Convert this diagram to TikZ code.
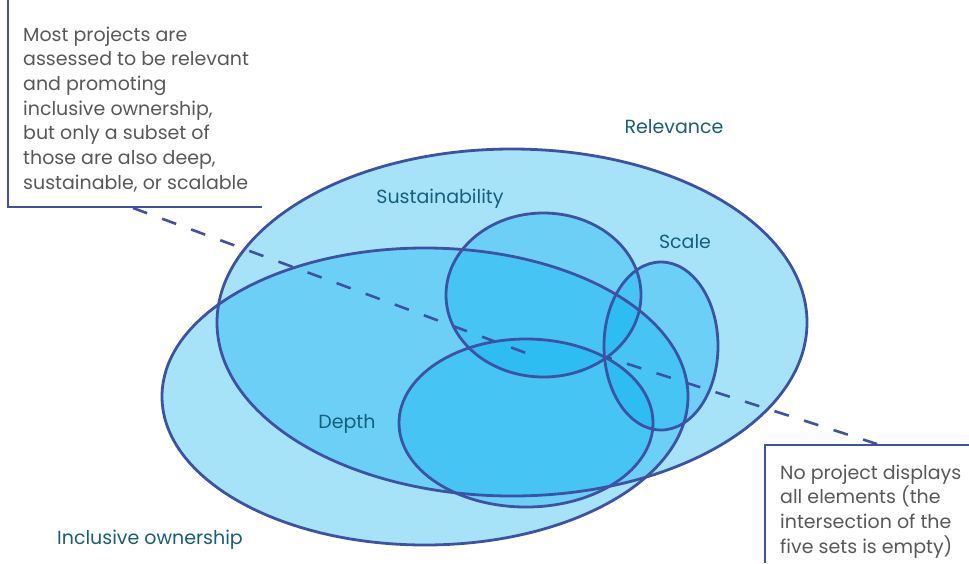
\documentclass[tikz,border=0pt]{standalone}
\usepackage{fontspec}
\setmainfont{Poppins}
\definecolor{setblue}{RGB}{0,174,239}
\definecolor{rimblue}{RGB}{62,82,164}
\definecolor{labteal}{RGB}{22,95,122}
\definecolor{notegray}{RGB}{88,88,88}
\tikzset{
  setfill/.style={fill=setblue,fill opacity=0.35},
  setrim/.style={draw=rimblue,line width=2.8pt},
  setlabel/.style={text=labteal,font=\fontsize{19}{24}\selectfont,inner sep=0pt,anchor=base},
  note/.style={text=notegray,font=\fontsize{19}{24.7}\selectfont,align=left,inner sep=0pt,anchor=north west},
  frame/.style={draw=rimblue,line width=2.8pt},
  pointer/.style={draw=rimblue,line width=2.6pt,dash pattern=on 15pt off 16pt}
}
\begin{document}
\begin{tikzpicture}[x=1pt,y=-1pt]
\useasboundingbox (0,0) rectangle (969,563);
\foreach \name/\cx/\cy/\rx/\ry in {relevance/512/322.5/295/173.5,ownership/425/396.5/263/148.5,
    sustainability/543.5/295/97.5/82,scale/661/346/57/84,depth/526/423/127/84}{
  \coordinate (\name) at (\cx,\cy);
  \fill[setfill] (\name) ellipse [x radius=\rx,y radius=\ry];
}
\foreach \name/\rx/\ry in {relevance/295/173.5,ownership/263/148.5,
    sustainability/97.5/82,scale/57/84,depth/127/84}
  \draw[setrim] (\name) ellipse [x radius=\rx,y radius=\ry];

\node[setlabel] (relevancelab) at (674,133) {Relevance};
\node[setlabel] (sustainabilitylab) at (440,203) {Sustainability};
\node[setlabel] (scalelab) at (685,248) {Scale};
\node[setlabel] (depthlab) at (347,428) {Depth};
\node[setlabel] (ownershiplab) at (150,544) {Inclusive ownership};

\node[note] (subsetnote) at (23,26.5) {Most projects are\\assessed to be relevant\\and promoting\\inclusive ownership,\\but only a subset of\\those are also deep,\\sustainable, or scalable};
\node[note] (emptynote) at (780,464.5) {No project displays\\all elements (the\\intersection of the\\five sets is empty)};

\coordinate (subsettop) at (8,0);
\coordinate (subsetend) at (262,207);
\coordinate (emptybottom) at (765,563);
\coordinate (emptyend) at (969,445);
\draw[frame] (subsettop) |- (subsetend);
\draw[frame] (emptybottom) |- (emptyend);

\coordinate (pointerA) at (133,208);
\coordinate (pointerB) at (537,357);
\coordinate (pointerC) at (606,357);
\coordinate (pointerD) at (877,444);
\draw[pointer] (pointerA) -- (pointerB);
\draw[pointer,dash phase=9pt] (pointerC) -- (pointerD);
\end{tikzpicture}
\end{document}
